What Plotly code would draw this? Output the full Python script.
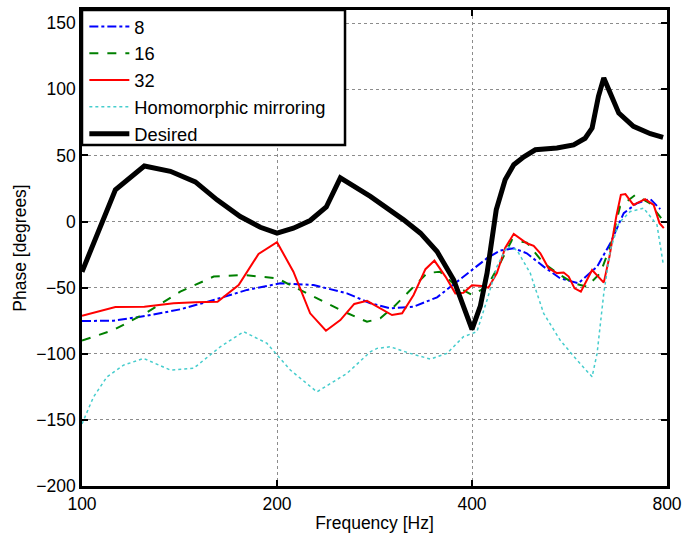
import plotly.graph_objects as go

# ---- data ----
f_desired = [100, 112.6, 124.8, 136.9, 149.6, 161.6, 175.5, 188.5, 200, 212, 225, 238.3, 250.5,
             278.7, 313.7, 333, 353.3, 374.7, 400, 412, 422, 436, 450, 464, 481, 501, 541,
             574, 598, 613, 627, 639, 654, 674, 710, 754, 789]
desired = [-38, 24, 42, 38, 30, 16.4, 3.8, -4.3, -8.8, -5, 0.8, 11, 33,
           19, 1.3, -8.8, -22.7, -44, -81.5, -64, -39, 8.9, 31.6, 43, 49, 54.3, 55.6,
           58, 63, 70.7, 94.7, 108.6, 97, 82, 72, 66.4, 63.6]

f_32 = [100, 112.6, 124.8, 138.5, 149.6, 161.9, 174.5, 187.3, 200, 212, 225, 238, 250.5, 263.2,
        275.4, 301, 312, 325, 339, 350, 364, 377, 388, 400, 414, 424, 437, 450, 464, 486, 498,
        510, 525, 541, 554, 564, 576, 589, 613, 639, 652, 668, 679, 690, 710, 740, 763, 779, 791]
s32 = [-71.2, -64.6, -64.4, -61.8, -61, -60.6, -48, -24.5, -15.6, -37.9, -69.4, -82.6, -74.5, -62.3,
       -60, -70.7, -69.4, -55.5, -36, -29.5, -41.6, -54.3, -53.8, -48.2, -48.7, -50, -39, -20, -9.3,
       -16.4, -18.4, -24, -35.3, -39, -38.6, -41.6, -50.5, -53, -36.6, -46.2, -26.5, 3.8, 20.2,
       20.8, 12.6, 17, 12.6, -1.2, -5]

f_8 = [100, 111.9, 126, 141.8, 159.7, 179.8, 202.4, 227.8, 256.5, 278.7, 299, 325, 353.3, 379,
       400, 422, 442, 464, 486, 516, 547, 584, 624, 654, 686, 719, 754, 781]
s8 = [-75.2, -75, -71.2, -66.4, -59.3, -51.7, -46.7, -48, -54.3, -61.8, -65.6, -64.4, -57.3, -45.5,
      -36.6, -27.7, -22, -20.2, -24, -34.1, -42.9, -46.7, -34.1, -16.4, 6.4, 13.9, 17, 9.4]

f_16 = [100, 111.9, 126, 141.8, 159.7, 177.6, 200, 222.5, 250.5, 275.4, 288.7, 303, 325, 341,
        357, 379, 400, 422, 442, 461, 486, 516, 547, 574, 602, 631, 654, 677, 715, 752, 791]
s16 = [-90, -82, -68.6, -53, -41.6, -40.4, -42.9, -54.3, -66.9, -75.8, -73.2, -64.4, -49.2, -39,
       -37.9, -49.2, -55.5, -49.2, -31.5, -13.9, -15.9, -31.5, -40.4, -46.7, -49.2, -39, -18.9,
       11.4, 20.2, 13.9, 0]

f_hm = [100, 104.2, 109.3, 115.9, 124.5, 136.9, 148.7, 163.5, 177.6, 192.9, 209.7, 230.5, 256.5,
        278.7, 285.4, 299, 321, 345, 366, 388, 407, 422, 437, 453, 469, 492, 516, 547, 581, 613,
        624, 639, 654, 674, 702, 736, 772, 789]
hm = [-153, -132.6, -117.4, -108.6, -103.5, -112.3, -111, -94.7, -83.3, -92, -112.3, -128.8,
      -114.8, -98.5, -95.9, -94.7, -99.7, -104, -99.7, -87.1, -83.3, -59.3, -34.1, -18.9, -21.4,
      -39, -69.4, -89.6, -104.8, -117.4, -99.7, -54.3, -21.4, -1.2, 7.6, 10.2, -2.5, -31.5]

x_ticks = [100, 200, 400, 800]
y_ticks = [-200, -150, -100, -50, 0, 50, 100, 150]

FONT = "Liberation Sans, Arial, Helvetica, sans-serif"

fig = go.Figure()
fig.add_trace(go.Scatter(x=f_8, y=s8, mode="lines", name="8",
                         line=dict(color="rgb(0,0,255)", width=2, dash="dashdot")))
fig.add_trace(go.Scatter(x=f_16, y=s16, mode="lines", name="16",
                         line=dict(color="rgb(0,128,0)", width=2, dash="dash")))
fig.add_trace(go.Scatter(x=f_32, y=s32, mode="lines", name="32",
                         line=dict(color="rgb(255,0,0)", width=2)))
fig.add_trace(go.Scatter(x=f_hm, y=hm, mode="lines", name="Homomorphic mirroring",
                         line=dict(color="rgb(70,205,205)", width=1.5, dash="dot")))
fig.add_trace(go.Scatter(x=f_desired, y=desired, mode="lines", name="Desired",
                         line=dict(color="black", width=5)))

axis_common = dict(showline=True, linecolor="black", linewidth=2.5, mirror="ticks",
                   ticks="inside", ticklen=6, tickwidth=1.5, tickcolor="black",
                   showgrid=True, gridcolor="rgb(140,140,140)", griddash="dot", gridwidth=1,
                   zeroline=False, automargin=False,
                   tickfont=dict(size=17.5, color="black", family=FONT),
                   title_font=dict(size=17.5, color="black", family=FONT))

fig.update_xaxes(type="log", range=[2, 2.90309], tickvals=x_ticks,
                 ticktext=[str(v) for v in x_ticks],
                 title_text="Frequency [Hz]", title_standoff=4, **axis_common)
fig.update_yaxes(range=[-200, 160], tickvals=y_ticks,
                 title_text="Phase [degrees]", title_standoff=6, **axis_common)

# legend frame (decoration, drawn over the traces like the MATLAB legend box)
fig.add_shape(type="rect", xref="paper", yref="paper", x0=0, x1=0.4496, y0=0.7164, y1=1,
              fillcolor="white", line=dict(color="black", width=2.5), layer="above")

fig.update_layout(
    width=685, height=537,
    margin=dict(l=82, r=18, t=10, b=51, autoexpand=False),
    paper_bgcolor="white", plot_bgcolor="white",
    font=dict(family=FONT, color="black"),
    showlegend=True,
    legend=dict(x=0.004, y=1.004, xanchor="left", yanchor="top",
                bgcolor="rgba(0,0,0,0)", borderwidth=0,
                font=dict(size=18.3, color="black", family=FONT),
                itemwidth=40),
)

fig.write_html("out.html")
